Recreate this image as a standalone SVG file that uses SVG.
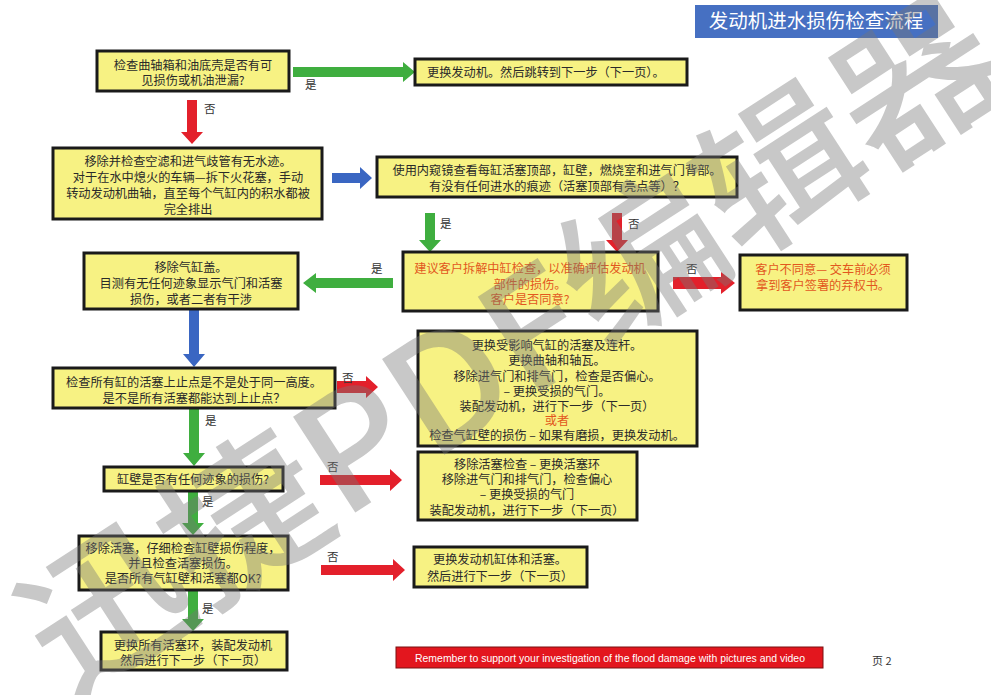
<svg xmlns="http://www.w3.org/2000/svg" width="991" height="695" viewBox="0 0 991 695">
<style>
.box{fill:#f7f283;stroke:#1a1a1a;stroke-width:3}
.t{font-family:"Noto Sans CJK SC","Noto Sans",sans-serif;font-size:12.2px;fill:#2a2a2a;text-anchor:middle}
.l{text-anchor:start}
.o{fill:#e2581e}
.lbl{font-family:"Noto Sans CJK SC",sans-serif;font-size:11.5px;fill:#333}
.g{fill:#3fae3f}
.r{fill:#e3202b}
.b{fill:#3a66c2}
</style>
<rect width="991" height="695" fill="#ffffff"/>

<g id="title">
<rect x="695" y="5" width="243" height="33" fill="#4670c2"/>
<text x="816" y="28" font-family="Noto Sans CJK SC,sans-serif" font-size="19.5" fill="#ffffff" text-anchor="middle">发动机进水损伤检查流程</text>
</g>

<g id="connectors">
<polygon class="g" points="293,67 403,67 403,62 415,72 403,82 403,77 293,77"/>
<polygon class="r" points="187,100 197,100 197,132 203,132 192,144 181,132 187,132"/>
<polygon class="b" points="332,173 360,173 360,167 372,178 360,189 360,183 332,183"/>
<polygon class="g" points="425,213 435,213 435,240 441,240 430,252 419,240 425,240"/>
<polygon class="r" points="612,213 622,213 622,240 628,240 617,252 606,240 612,240"/>
<polygon class="r" points="673,277 721,277 721,272 735,283 721,294 721,289 673,289"/>
<polygon class="g" points="393,278 316,278 316,273 303,283 316,293 316,288 393,288"/>
<polygon class="b" points="189,310 199,310 199,354 205,354 194,367 183,354 189,354"/>
<polygon class="r" points="337,381 366,381 366,376 378,387 366,398 366,393 337,393"/>
<polygon class="g" points="189,409 199,409 199,453 205,453 194,466 183,453 189,453"/>
<polygon class="r" points="320,475 390,475 390,469 402,480 390,491 390,485 320,485"/>
<polygon class="g" points="188,492 198,492 198,523 204,523 193,535 182,523 188,523"/>
<polygon class="r" points="321,565 393,565 393,559 405,570 393,581 393,575 321,575"/>
<polygon class="g" points="188,591 198,591 198,619 204,619 193,631 182,619 188,619"/>
<text class="lbl" x="305" y="89">是</text>
<text class="lbl" x="204" y="113">否</text>
<text class="lbl" x="440" y="228">是</text>
<text class="lbl" x="628" y="228">否</text>
<text class="lbl" x="686" y="273">否</text>
<text class="lbl" x="371" y="273">是</text>
<text class="lbl" x="342" y="382">否</text>
<text class="lbl" x="205" y="425">是</text>
<text class="lbl" x="327" y="471">否</text>
<text class="lbl" x="202" y="506">是</text>
<text class="lbl" x="327" y="561">否</text>
<text class="lbl" x="202" y="613">是</text>
</g>

<g id="n1">
<rect class="box" x="97" y="51" width="192" height="40"/>
<text class="t" x="193" y="70">检查曲轴箱和油底壳是否有可</text>
<text class="t" x="193" y="85">见损伤或机油泄漏?</text>
</g>
<g id="n2">
<rect class="box" x="415" y="59" width="272" height="26"/>
<text class="t l" x="427" y="77">更换发动机。然后跳转到下一步（下一页）。</text>
</g>
<g id="n3">
<rect class="box" x="53" y="148" width="269" height="71"/>
<text class="t" x="188" y="166">移除并检查空滤和进气歧管有无水迹。</text>
<text class="t" x="188" y="182">对于在水中熄火的车辆—拆下火花塞，手动</text>
<text class="t" x="188" y="198">转动发动机曲轴，直至每个气缸内的积水都被</text>
<text class="t" x="188" y="214">完全排出</text>
</g>
<g id="n4">
<rect class="box" x="377" y="157" width="360" height="40"/>
<text class="t" x="557" y="175">使用内窥镜查看每缸活塞顶部，缸壁，燃烧室和进气门背部。</text>
<text class="t" x="557" y="191">有没有任何进水的痕迹（活塞顶部有亮点等）？</text>
</g>
<g id="n5">
<rect class="box" x="403" y="252" width="255" height="59"/>
<text class="t o" x="530" y="273">建议客户拆解中缸检查，以准确评估发动机</text>
<text class="t o" x="530" y="289">部件的损伤。</text>
<text class="t o" x="530" y="304">客户是否同意?</text>
</g>
<g id="n6">
<rect class="box" x="740" y="255" width="167" height="55"/>
<text class="t o" x="823" y="274">客户不同意— 交车前必须</text>
<text class="t o" x="823" y="290">拿到客户签署的弃权书。</text>
</g>
<g id="n7">
<rect class="box" x="84" y="253" width="214" height="56"/>
<text class="t" x="191" y="272">移除气缸盖。</text>
<text class="t" x="191" y="288">目测有无任何迹象显示气门和活塞</text>
<text class="t" x="191" y="304">损伤，或者二者有干涉</text>
</g>
<g id="n8">
<rect class="box" x="53" y="368" width="282" height="40"/>
<text class="t" x="194" y="387">检查所有缸的活塞上止点是不是处于同一高度。</text>
<text class="t" x="194" y="403">是不是所有活塞都能达到上止点？</text>
</g>
<g id="n9">
<rect class="box" x="418" y="331" width="279" height="115"/>
<text class="t" x="557" y="350">更换受影响气缸的活塞及连杆。</text>
<text class="t" x="557" y="365">更换曲轴和轴瓦。</text>
<text class="t" x="557" y="381">移除进气门和排气门，检查是否偏心。</text>
<text class="t" x="557" y="396">– 更换受损的气门。</text>
<text class="t" x="557" y="411">装配发动机，进行下一步（下一页）</text>
<text class="t o" x="557" y="425">或者</text>
<text class="t" x="557" y="440">检查气缸壁的损伤 – 如果有磨损，更换发动机。</text>
</g>
<g id="n10">
<rect class="box" x="104" y="467" width="179" height="24"/>
<text class="t" x="193" y="484">缸壁是否有任何迹象的损伤?</text>
</g>
<g id="n11">
<rect class="box" x="418" y="452" width="219" height="68"/>
<text class="t" x="527" y="469">移除活塞检查 – 更换活塞环</text>
<text class="t" x="527" y="484">移除进气门和排气门，检查偏心</text>
<text class="t" x="527" y="499">– 更换受损的气门</text>
<text class="t" x="527" y="515">装配发动机，进行下一步（下一页）</text>
</g>
<g id="n12">
<rect class="box" x="79" y="536" width="209" height="54"/>
<text class="t" x="183" y="553">移除活塞，仔细检查缸壁损伤程度，</text>
<text class="t" x="183" y="568">并且检查活塞损伤。</text>
<text class="t" x="183" y="583">是否所有气缸壁和活塞都OK?</text>
</g>
<g id="n13">
<rect class="box" x="414" y="547" width="173" height="40"/>
<text class="t" x="500" y="564">更换发动机缸体和活塞。</text>
<text class="t" x="500" y="581">然后进行下一步（下一页）</text>
</g>
<g id="n14">
<rect class="box" x="101" y="632" width="186" height="38"/>
<text class="t" x="193" y="650">更换所有活塞环，装配发动机</text>
<text class="t" x="193" y="665">然后进行下一步（下一页）</text>
</g>

<g id="banner">
<rect x="396" y="647" width="427" height="21" fill="#e3161e" stroke="#7a1010" stroke-width="1"/>
<text x="415" y="662" font-family="Liberation Sans,Arial,sans-serif" font-size="11" fill="#ffffff" textLength="390" lengthAdjust="spacingAndGlyphs">Remember to support your investigation of the flood damage with pictures and video</text>
</g>
<text x="872" y="665" font-family="Noto Sans CJK SC,sans-serif" font-size="11" fill="#333">页 2</text>

<g id="watermark" opacity="0.4">
<text x="505" y="335" transform="rotate(-33 505 335)" font-family="Noto Sans CJK SC,sans-serif" font-weight="500" font-size="155" fill="#777777" text-anchor="middle" dominant-baseline="central" textLength="1130" lengthAdjust="spacingAndGlyphs">迅捷PDF编辑器</text>
</g>
</svg>
